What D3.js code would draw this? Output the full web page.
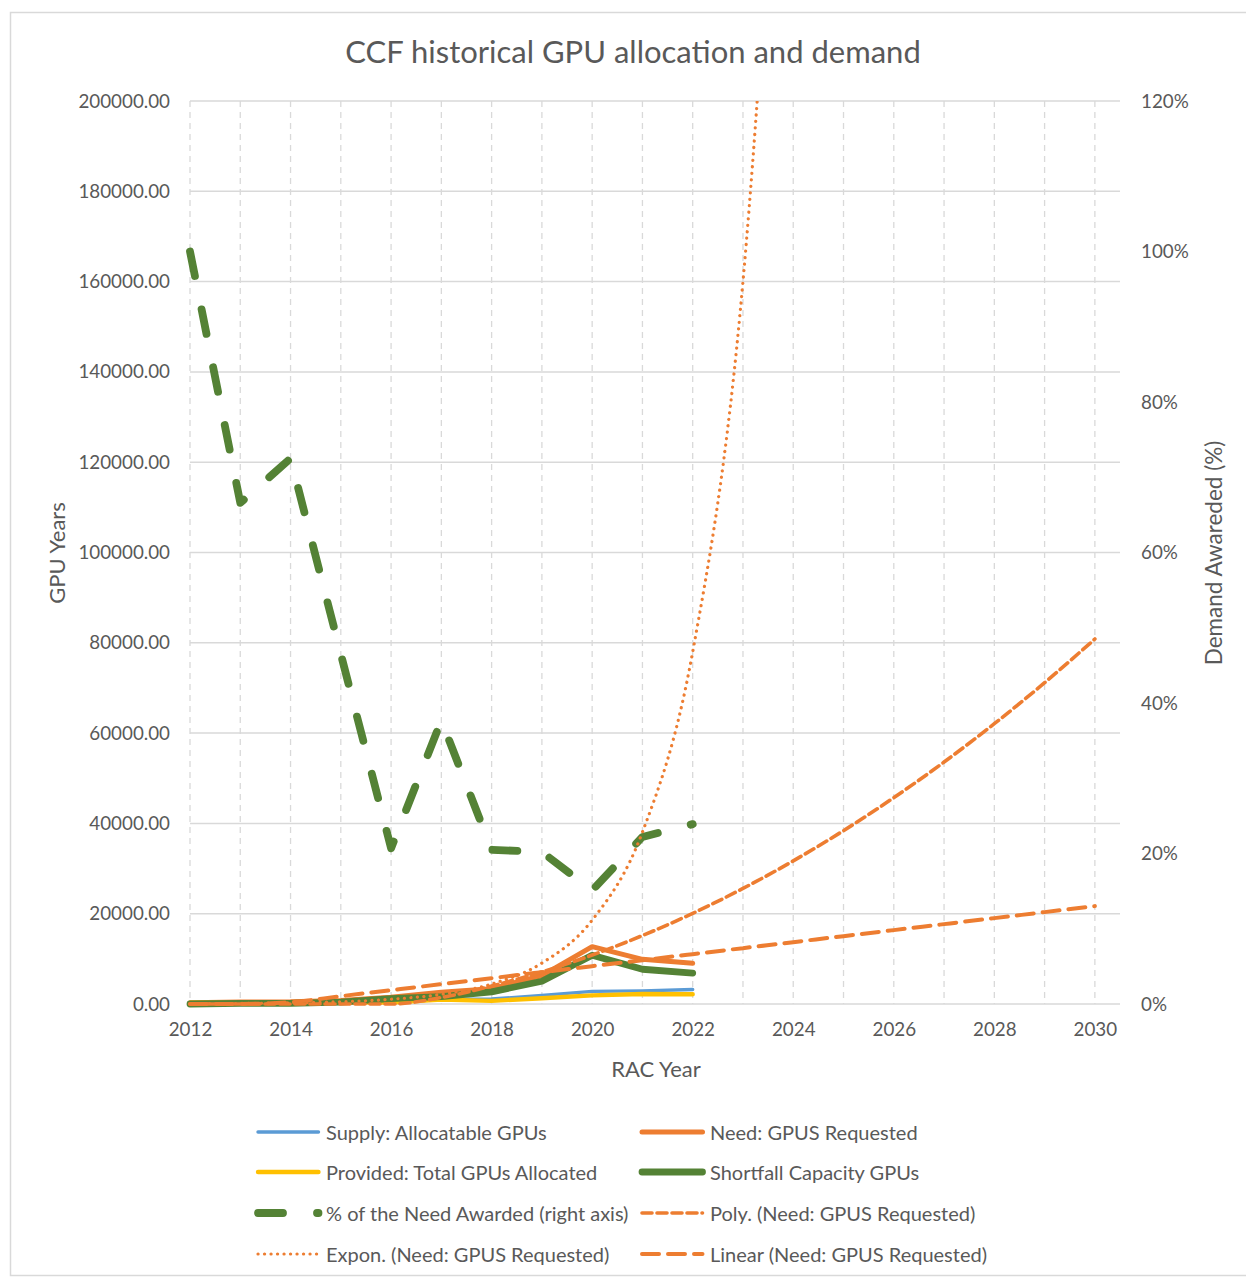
<!DOCTYPE html>
<html>
<head>
<meta charset="utf-8">
<script src="https://cdn.jsdelivr.net/npm/d3@7"></script>
<style>
  html, body { margin: 0; padding: 0; background: #fff; }
  svg { display: block; font-family: Lato, "Open Sans", sans-serif; }
</style>
</head>
<body>
<svg id="chart" width="1246" height="1278"></svg>
<script>
// ---- data -----------------------------------------------------------
const years = [2012, 2013, 2014, 2015, 2016, 2017, 2018, 2019, 2020, 2021, 2022];
const supply    = [300, 300, 400, 400, 500, 1000, 1100, 1900, 2800, 2900, 3200];
const need      = [300, 450, 500, 800, 1500, 2600, 3400, 6300, 12700, 9900, 9000];
const provided  = [300, 300, 360, 370, 310, 980, 700, 1270, 1920, 2200, 2150];
const shortfall = [0, 150, 140, 430, 1190, 1620, 2700, 5030, 10780, 7700, 6850];
const pctAwarded = [1.00, 0.666, 0.725, 0.465, 0.207, 0.377, 0.205, 0.202, 0.151, 0.222, 0.239];

// trend lines of the requested need, one value per year
const trendYears = [2012, 2013, 2014, 2015, 2016, 2017, 2018, 2019, 2020, 2021,
                    2022, 2023, 2024, 2025, 2026, 2027, 2028, 2029, 2030];
const expTrend    = [60, 122, 250, 513, 1050, 2150, 4420, 9060, 18570, 38060, 78000, 160000, 328000];
const polyTrend   = [-2320, -2760, -2600, -1850, -500, 1440, 3980, 7110, 10840, 15160,
                     20080, 25590, 31700, 38400, 45700, 53590, 62080, 71160, 80840];
const linearTrend = [-2260, -930, 400, 1730, 3060, 4390, 5720, 7050, 8380, 9710,
                     11040, 12370, 13700, 15030, 16360, 17690, 19020, 20350, 21680];

const leftTicks  = [0, 20000, 40000, 60000, 80000, 100000, 120000, 140000, 160000, 180000, 200000];
const rightTicks = [0, 0.2, 0.4, 0.6, 0.8, 1.0, 1.2];
const xTicks = [2012, 2014, 2016, 2018, 2020, 2022, 2024, 2026, 2028, 2030];

const COLORS = {
  supply: "#5B9BD5", need: "#ED7D31", provided: "#FFC000",
  shortfall: "#548235", pct: "#548235", trend: "#ED7D31",
  grid: "#D9D9D9", text: "#595959"
};

// ---- layout ---------------------------------------------------------
const svg = d3.select("#chart");
const plot = { left: 190, right: 1120, top: 101, bottom: 1004 };

const x = d3.scaleLinear().domain([2012, 2030.5]).range([plot.left, plot.right]);
const yL = d3.scaleLinear().domain([0, 200000]).range([plot.bottom, plot.top]);
const yLc = yL.copy().clamp(true);
const yR = d3.scaleLinear().domain([0, 1.2]).range([plot.bottom, plot.top]);

// chart frame
svg.append("rect")
  .attr("x", 10.5).attr("y", 12.5).attr("width", 1250).attr("height", 1263)
  .attr("fill", "#fff").attr("stroke", "#D9D9D9").attr("stroke-width", 1.5);

svg.append("defs").append("clipPath").attr("id", "plotClip")
  .append("rect")
  .attr("x", plot.left - 10).attr("y", plot.top)
  .attr("width", plot.right - plot.left + 20).attr("height", plot.bottom - plot.top + 10);

// title
svg.append("text")
  .attr("x", 633).attr("y", 51).attr("text-anchor", "middle").attr("dominant-baseline", "central")
  .attr("font-size", 31).attr("fill", COLORS.text)
  .text("CCF historical GPU allocation and demand");

// gridlines
const grid = svg.append("g");
grid.selectAll("line.v").data(d3.range(2012, 2031)).join("line")
  .attr("x1", d => x(d)).attr("x2", d => x(d))
  .attr("y1", plot.top).attr("y2", plot.bottom)
  .attr("stroke", COLORS.grid).attr("stroke-width", 1.3).attr("stroke-dasharray", "6,5");
grid.selectAll("line.h").data(leftTicks).join("line")
  .attr("x1", plot.left).attr("x2", plot.right)
  .attr("y1", d => yL(d)).attr("y2", d => yL(d))
  .attr("stroke", COLORS.grid).attr("stroke-width", 1.5);

// axes (labels only, no domain lines)
const axisLeft = d3.axisLeft(yL).tickValues(leftTicks).tickFormat(d3.format(".2f")).tickSize(0).tickPadding(20);
const gL = svg.append("g").attr("transform", `translate(${plot.left},0)`).call(axisLeft);
const axisRight = d3.axisRight(yR).tickValues(rightTicks).tickFormat(d3.format(".0%")).tickSize(0).tickPadding(21);
const gR = svg.append("g").attr("transform", `translate(${plot.right},0)`).call(axisRight);
const axisBottom = d3.axisBottom(x).tickValues(xTicks).tickFormat(d3.format("d")).tickSize(0).tickPadding(19);
const gB = svg.append("g").attr("transform", `translate(0,${plot.bottom})`).call(axisBottom);
[gL, gR, gB].forEach(g => {
  g.select(".domain").remove();
  g.selectAll("text").attr("font-size", 18.8).attr("fill", COLORS.text)
    .attr("font-family", "Lato, 'Open Sans', sans-serif");
});

// axis titles
svg.append("text")
  .attr("transform", "translate(56,553) rotate(-90)")
  .attr("text-anchor", "middle").attr("dominant-baseline", "central")
  .attr("font-size", 22).attr("fill", COLORS.text).text("GPU Years");
svg.append("text")
  .attr("transform", "translate(1213,553) rotate(-90)")
  .attr("text-anchor", "middle").attr("dominant-baseline", "central")
  .attr("font-size", 22.5).attr("fill", COLORS.text).text("Demand Awareded (%)");
svg.append("text")
  .attr("x", 656).attr("y", 1068)
  .attr("text-anchor", "middle").attr("dominant-baseline", "central")
  .attr("font-size", 22).attr("fill", COLORS.text).text("RAC Year");

// ---- series ---------------------------------------------------------
const plotG = svg.append("g").attr("clip-path", "url(#plotClip)");

function seriesLine(values, yScale, xs = years) {
  return d3.line()
    .x((d, i) => x(xs[i]))
    .y(d => yScale(d))(values);
}
function trendLine(values, yScale) {
  return d3.line()
    .curve(d3.curveMonotoneX)
    .x((d, i) => x(trendYears[i]))
    .y(d => yScale(d))(values);
}

const lineStyles = {
  supply:    { color: COLORS.supply, width: 3.4, dash: null },
  need:      { color: COLORS.need, width: 5, dash: null },
  provided:  { color: COLORS.provided, width: 4.4, dash: null },
  shortfall: { color: COLORS.shortfall, width: 6.8, dash: null },
  pct:       { color: COLORS.pct, width: 7.8, dash: "25,34" },
  poly:      { color: COLORS.trend, width: 3.6, dash: "10,5" },
  expon:     { color: COLORS.trend, width: 3.2, dash: "0.1,6.4" },
  linear:    { color: COLORS.trend, width: 4, dash: "17,9" }
};

function drawPath(g, d, st) {
  const p = g.append("path").attr("d", d).attr("fill", "none")
    .attr("stroke", st.color).attr("stroke-width", st.width)
    .attr("stroke-linejoin", "round").attr("stroke-linecap", "round");
  if (st.dash) p.attr("stroke-dasharray", st.dash);
  return p;
}

drawPath(plotG, seriesLine(supply, yL), lineStyles.supply);
drawPath(plotG, seriesLine(need, yL), lineStyles.need);
drawPath(plotG, seriesLine(provided, yL), lineStyles.provided);
drawPath(plotG, seriesLine(shortfall, yL), lineStyles.shortfall);
drawPath(plotG, seriesLine(pctAwarded, yR), lineStyles.pct);

drawPath(plotG, trendLine(polyTrend, yLc), lineStyles.poly);
drawPath(plotG, trendLine(expTrend, yL), lineStyles.expon);
drawPath(plotG, trendLine(linearTrend, yLc), lineStyles.linear);

// ---- legend ---------------------------------------------------------
const legendItems = [
  { label: "Supply: Allocatable GPUs", st: lineStyles.supply },
  { label: "Need: GPUS Requested", st: lineStyles.need },
  { label: "Provided: Total GPUs Allocated", st: lineStyles.provided },
  { label: "Shortfall Capacity GPUs", st: lineStyles.shortfall },
  { label: "% of the Need Awarded (right axis)", st: lineStyles.pct },
  { label: "Poly. (Need: GPUS Requested)", st: lineStyles.poly },
  { label: "Expon. (Need: GPUS Requested)", st: lineStyles.expon },
  { label: "Linear (Need: GPUS Requested)", st: lineStyles.linear }
];
const colX = [258, 642];
const rowY = [1132, 1172, 1213, 1254];
const legend = svg.append("g");
legendItems.forEach((item, i) => {
  const cx = colX[i % 2], cy = rowY[Math.floor(i / 2)];
  const g = legend.append("g");
  drawPath(g, `M${cx},${cy}L${cx + 60.5},${cy}`, item.st);
  g.append("text")
    .attr("x", cx + 68).attr("y", cy).attr("dominant-baseline", "central")
    .attr("font-size", 20).attr("fill", COLORS.text).text(item.label);
});
</script>
</body>
</html>
